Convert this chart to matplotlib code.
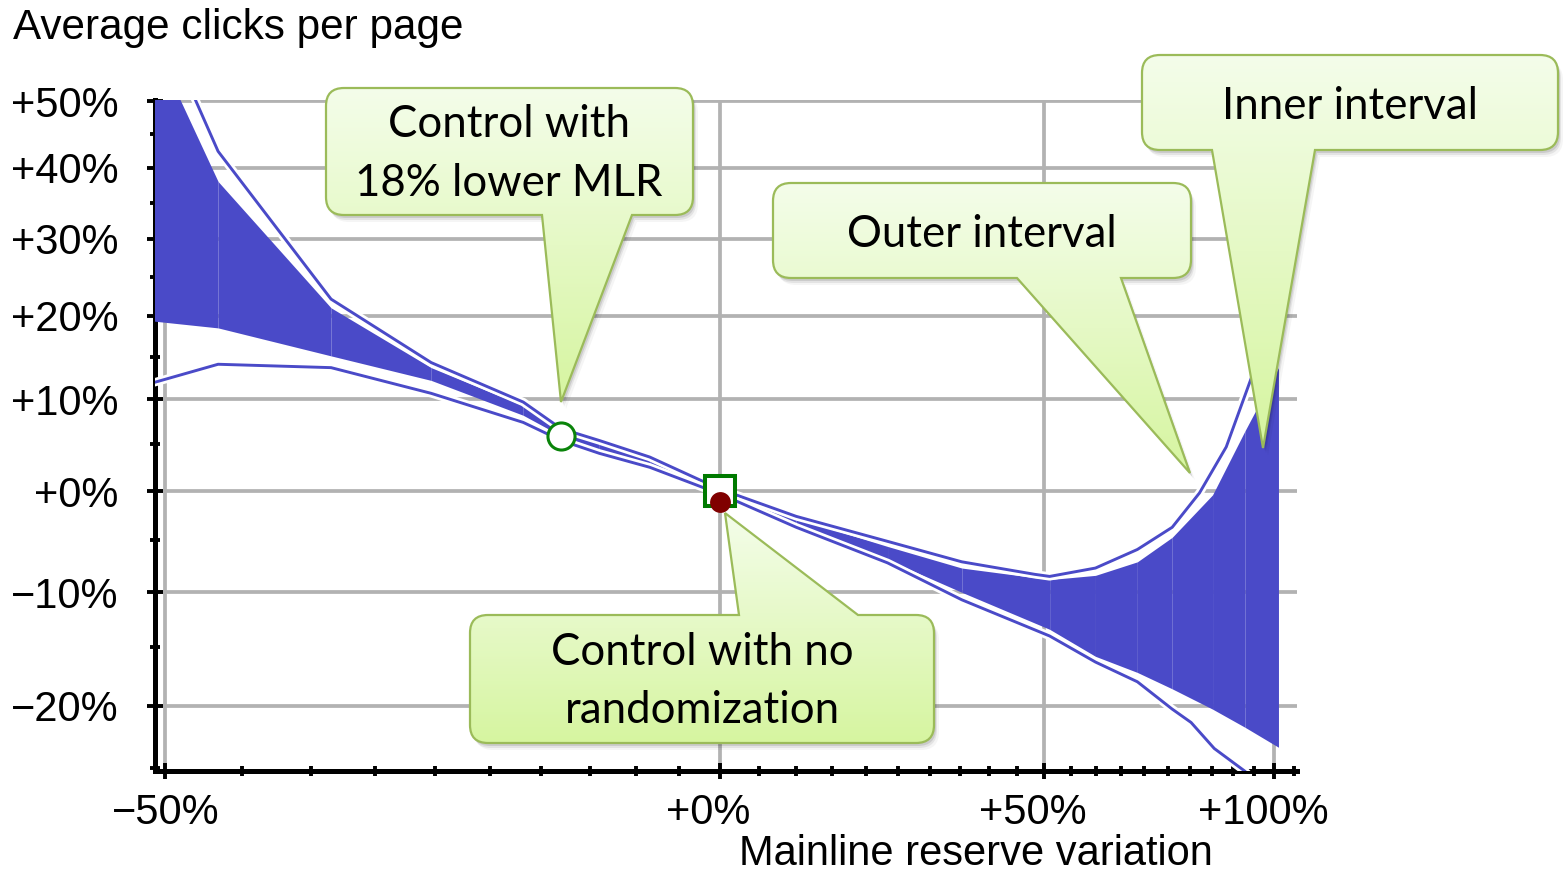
import numpy as np
import matplotlib
matplotlib.use("Agg")
import matplotlib.pyplot as plt
import matplotlib.patheffects as pe
from matplotlib.path import Path
from matplotlib.patches import PathPatch
from matplotlib.colors import LinearSegmentedColormap
from matplotlib.ticker import FixedLocator, FixedFormatter, NullFormatter

# mainline reserve variation (%) -> change in average clicks per page (%)
inner_x = [-51, -46.6, -38.5, -30.3, -21.8, -18, -14, -8.4, 0, 10, 23.3, 35.3,
           51, 59.9, 68.5, 76, 85.1, 92.8, 101]
inner_hi = [61, 38.0, 21.0, 13.7, 9.3, 6.5, 5.2, 3.4, 0.1, -2.8, -5.6, -7.7,
            -8.8, -8.4, -7.1, -4.7, -0.4, 6.5, 13.7]
inner_lo = [19.4, 18.5, 15.1, 12.2, 8.2, 5.9, 4.4, 2.8, -0.2, -3.5, -6.9, -10.0,
            -13.4, -15.8, -17.2, -18.6, -20.3, -21.8, -23.4]

outer_hi_x = [-51, -46.6, -38.5, -30.3, -21.8, -18, -14, -8.4, 0, 10, 23.3, 35.3,
              48.2, 51, 59.9, 68.5, 76, 82.1, 88.3, 94.3, 101]
outer_hi = [67.5, 42.4, 22.1, 14.3, 9.7, 6.7, 5.4, 3.6, 0.2, -2.6, -5.1, -7.1,
            -8.3, -8.5, -7.7, -5.9, -3.7, -0.2, 4.7, 12.5, 18]
outer_lo_x = [-51, -46.6, -38.5, -30.3, -21.8, -18, -14, -8.4, 0, 10, 23.3, 35.3,
              51, 59.9, 68.5, 76, 80.2, 85.5, 92.8, 101]
outer_lo = [11.8, 14.1, 13.7, 10.7, 7.4, 5.4, 4.0, 2.5, -0.3, -3.7, -7.2, -10.7,
            -14.0, -16.3, -18.0, -20.3, -21.4, -23.5, -25.3, -28]

lower_mlr = (-18, 5.9)
control = (0, 0)
no_random = (0, -1.1)

x_ticks = [-50, 0, 50, 100]
x_labels = ["\u221250%", "+0%  ", "+50%  ", "+100%  "]
y_ticks = [-20, -10, 0, 10, 20, 30, 40, 50]
y_labels = ["\u221220%", "\u221210%", "+0%", "+10%", "+20%", "+30%", "+40%", "+50%"]


def m(v):
    # percent change -> multiplier (axes are logarithmic in 1 + change)
    return 1 + np.asarray(v, dtype=float) / 100


W, H = 1565, 885
blue = "#4a4ac8"
fig = plt.figure(figsize=(W / 100, H / 100), dpi=100)
ax = fig.add_axes([154.5 / W, 1 - 771 / H, (1297 - 154.5) / W, (771 - 100) / H])
ax.set_xscale("log")
ax.set_yscale("log")
ax.set_xlim(0.4932, 2.0571)
ax.set_ylim(0.7473, 1.5021)
ax.set_axisbelow(True)

# inner interval, filled segment by segment
ix, lo, hi = m(inner_x), m(inner_lo), m(inner_hi)
for i in range(len(ix) - 1):
    ax.fill_between(ix[i:i + 2], lo[i:i + 2], hi[i:i + 2], color=blue, lw=0, zorder=3)

halo = [pe.Stroke(linewidth=6, foreground="white"), pe.Normal()]
ax.plot(m(outer_hi_x), m(outer_hi), color=blue, lw=2.1, zorder=4, path_effects=halo)
ax.plot(m(outer_lo_x), m(outer_lo), color=blue, lw=2.1, zorder=4, path_effects=halo)

ax.plot(*m(lower_mlr), marker="o", ms=19.5, mfc="white", mec="#0a840a", mew=2.2, zorder=6)
ax.plot(*m(control), marker="s", ms=21, mfc="white", mec="#007a00", mew=2.9, zorder=6)
ax.plot(*m(no_random), marker="o", ms=15, mfc="#800000", mec="#800000", mew=0, zorder=7)

ax.xaxis.set_major_locator(FixedLocator(m(x_ticks)))
ax.xaxis.set_major_formatter(FixedFormatter(x_labels))
ax.xaxis.set_minor_locator(FixedLocator(m([v for v in range(-45, 106, 5) if v % 50])))
ax.xaxis.set_minor_formatter(NullFormatter())
ax.yaxis.set_major_locator(FixedLocator(m(y_ticks)))
ax.yaxis.set_major_formatter(FixedFormatter(y_labels))
ax.yaxis.set_minor_locator(FixedLocator(m([v for v in range(-25, 50, 5) if v % 10])))
ax.yaxis.set_minor_formatter(NullFormatter())

ax.grid(True, which="major", color="#b2b2b2", lw=2.7)
for s in ["top", "right"]:
    ax.spines[s].set_visible(False)
for s in ["left", "bottom"]:
    ax.spines[s].set_linewidth(3.6)
ax.tick_params(which="major", direction="inout", length=11.5, width=2.8)
ax.tick_params(which="minor", direction="inout", length=6.5, width=2.8)
ax.tick_params(axis="x", which="major", pad=10, labelsize=30)
ax.tick_params(axis="y", which="major", pad=20, labelsize=30)
for lab in ax.get_xticklabels() + ax.get_yticklabels():
    lab.set_family("Liberation Sans")

fig.text(13 / W, 1 - 39 / H, "Average clicks per page", fontsize=30.4,
         family="Liberation Sans", va="baseline", ha="left")
fig.text(976 / W, 1 - 865 / H, "Mainline reserve variation", fontsize=30,
         family="Liberation Sans", va="baseline", ha="center")

# callout overlay in pixel coordinates
ov = fig.add_axes([0, 0, 1, 1], zorder=10)
ov.axis("off")
grad_cmap = LinearSegmentedColormap.from_list("callout", ["#f4fdea", "#d6f5a0"])


def callout_path(box, base, tip, side):
    x0, y0, x1, y1 = box
    r = 18
    b0, b1 = base
    if side == "bottom":
        verts = [(x0 + r, y0), (x1 - r, y0), (x1, y0), (x1, y0 + r), (x1, y1 - r),
                 (x1, y1), (x1 - r, y1), (b1, y1), tip, (b0, y1), (x0 + r, y1),
                 (x0, y1), (x0, y1 - r), (x0, y0 + r), (x0, y0), (x0 + r, y0), (x0 + r, y0)]
        codes = [1, 2, 3, 3, 2, 3, 3, 2, 2, 2, 2, 3, 3, 2, 3, 3, 79]
    else:
        verts = [(x0 + r, y0), (b0, y0), tip, (b1, y0), (x1 - r, y0), (x1, y0),
                 (x1, y0 + r), (x1, y1 - r), (x1, y1), (x1 - r, y1), (x0 + r, y1),
                 (x0, y1), (x0, y1 - r), (x0, y0 + r), (x0, y0), (x0 + r, y0), (x0 + r, y0)]
        codes = [1, 2, 2, 2, 2, 3, 3, 2, 3, 3, 2, 3, 3, 2, 3, 3, 79]
    return np.array(verts, dtype=float), codes


def callout(box, base, tip, side):
    verts, codes = callout_path(box, base, tip, side)
    for dx, dy, a in [(2, 3, 0.10), (3, 5, 0.07), (5, 7, 0.04)]:
        ov.add_patch(PathPatch(Path(verts + [dx, dy], codes), fc="black", alpha=a,
                               lw=0, zorder=1))
    shape = PathPatch(Path(verts, codes), fc="none", ec="#9bbb59", lw=1.6, zorder=3)
    xs, ys = verts[:, 0], verts[:, 1]
    img = ov.imshow(np.linspace(0, 1, 256).reshape(-1, 1), cmap=grad_cmap, aspect="auto",
                    extent=[xs.min(), xs.max(), ys.max(), ys.min()], origin="upper",
                    zorder=2)
    ov.add_patch(shape)
    img.set_clip_path(shape)


callout((326, 88, 693, 215), (542, 632), (561, 402), "bottom")
callout((773, 183, 1191, 278), (1017, 1121), (1190, 473), "bottom")
callout((1142, 55, 1558, 150), (1212, 1315), (1263, 448), "bottom")
callout((470, 615, 934, 743), (739, 858), (725, 513), "top")

notes = [
    (509, 137, "Control with"),
    (509, 196, "18% lower MLR"),
    (982, 247, "Outer interval"),
    (1350, 119, "Inner interval"),
    (702, 665, "Control with no"),
    (702, 723, "randomization"),
]
for tx, ty, s in notes:
    ov.text(tx, ty, s, fontsize=31.5, family="Lato", ha="center", va="baseline", zorder=4)

ov.set_xlim(0, W)
ov.set_ylim(H, 0)

fig.savefig("out.png", dpi=100)
